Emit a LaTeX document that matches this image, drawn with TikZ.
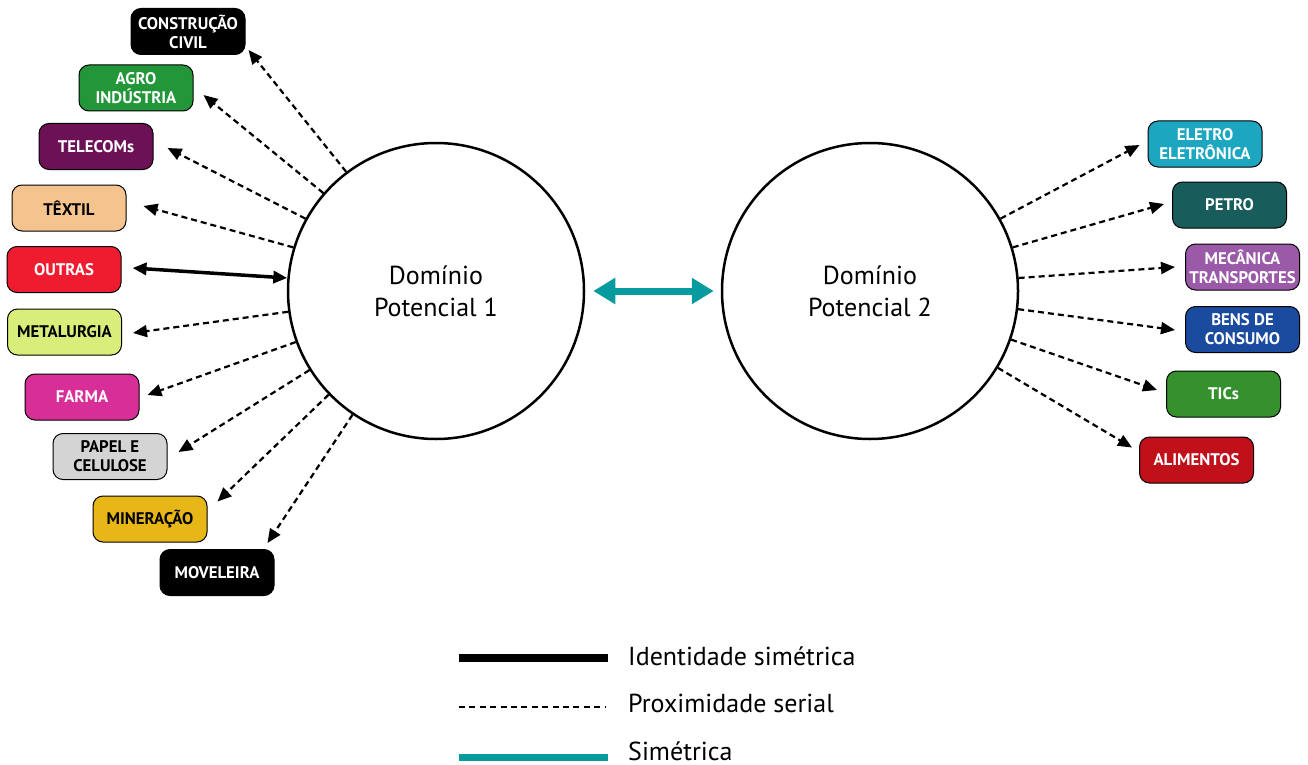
\documentclass[tikz,border=0pt]{standalone}
\usepackage{fontspec}
\setmainfont{PT Sans}
\usetikzlibrary{arrows.meta,calc}
\definecolor{cagro}{HTML}{23963A}
\definecolor{ctele}{HTML}{6D1157}
\definecolor{ctext}{HTML}{F5C48E}
\definecolor{coutr}{HTML}{EE1C2E}
\definecolor{cmeta}{HTML}{D9EE7A}
\definecolor{cfarm}{HTML}{D82E97}
\definecolor{cpape}{HTML}{D4D4D4}
\definecolor{cmine}{HTML}{E6B716}
\definecolor{celet}{HTML}{1CA6C0}
\definecolor{cpetr}{HTML}{185C5C}
\definecolor{cmeca}{HTML}{9A5AA8}
\definecolor{cbens}{HTML}{1B4B9F}
\definecolor{ctics}{HTML}{35902E}
\definecolor{calim}{HTML}{C0101A}
\definecolor{cteal}{HTML}{079BA0}
\begin{document}
\begin{tikzpicture}[x=1pt,y=-1pt,
  box/.style={draw=black, line width=1pt, rounded corners=10pt, minimum width=114pt, minimum height=46pt, align=center, inner sep=1pt, font=\fontsize{16.8}{19}\selectfont\bfseries, text=white},
  dk/.style={text=black},
  circ/.style={circle, draw, line width=2.5pt, minimum size=296pt, inner sep=0pt, align=center, font=\fontsize{26}{32}\selectfont},
  ser/.style={line width=2.2pt, dash pattern=on 6pt off 4pt, -{Triangle[length=14pt,width=12pt]}},
  ident/.style={line width=3.5pt, {Triangle[length=14pt,width=12pt]}-{Triangle[length=14pt,width=12pt]}},
  sym/.style={line width=7pt, color=cteal, {Triangle[length=22pt,width=25pt]}-{Triangle[length=22pt,width=25pt]}},
  legtxt/.style={anchor=base west, font=\fontsize{26}{30}\selectfont, inner sep=0pt}
]
\useasboundingbox (0,0) rectangle (1308,765);

% circles
\node[circ] (c1) at (436,291) {Domínio\\Potencial 1};
\node[circ] (c2) at (870,291) {Domínio\\Potencial 2};

% left boxes
\node[box, fill=black] (cc) at (188,31.5) {CONSTRUÇÃO\\CIVIL};
\node[box, fill=cagro] (ag) at (136,88) {AGRO\\INDÚSTRIA};
\node[box, fill=ctele] (te) at (96,146.5) {TELECOMs};
\node[box, fill=ctext, dk] (tx) at (69,208) {TÊXTIL};
\node[box, fill=coutr] (ou) at (64,269.5) {OUTRAS};
\node[box, fill=cmeta, dk] (me) at (64.5,332) {METALURGIA};
\node[box, fill=cfarm] (fa) at (82,397) {FARMA};
\node[box, fill=cpape, dk] (pa) at (110,456.5) {PAPEL E\\CELULOSE};
\node[box, fill=cmine, dk] (mi) at (150,519) {MINERAÇÃO};
\node[box, fill=black] (mo) at (217,572.5) {MOVELEIRA};

% right boxes
\node[box, fill=celet] (el) at (1205,144) {ELETRO\\ELETRÔNICA};
\node[box, fill=cpetr] (pe) at (1229.5,205) {PETRO};
\node[box, fill=cmeca] (mc) at (1242.5,267) {MECÂNICA\\TRANSPORTES};
\node[box, fill=cbens] (be) at (1242.5,329.5) {BENS DE\\CONSUMO};
\node[box, fill=ctics] (ti) at (1223.5,394) {TICs};
\node[box, fill=calim] (al) at (1196.5,460) {ALIMENTOS};

% left connectors
\draw[ser] (c1.127.4) -- ($(cc.south east)+(3,-5)$);
\draw[ser] (c1.139.3) -- ($(ag.east)+(10,7)$);
\draw[ser] (c1.151.7) -- ($(te.east)+(14,1.5)$);
\draw[ser] (c1.163.3) -- ($(tx.east)+(17,-2)$);
\draw[ident] ($(ou.east)+(11,-1.5)$) -- (c1.175.5);
\draw[ser] (c1.188.1) -- ($(me.east)+(11,1)$);
\draw[ser] (c1.200) -- ($(fa.east)+(8,-2)$);
\draw[ser] (c1.212.5) -- ($(pa.east)+(11,-4.5)$);
\draw[ser] (c1.224.5) -- ($(mi.north east)+(10,6)$);
\draw[ser] (c1.236.3) -- ($(mo.north east)+(-7,-6)$);

% right connectors
\draw[ser] (c2.29.1) -- ($(el.west)+(-8,1)$);
\draw[ser] (c2.17.2) -- ($(pe.west)+(-8,-1)$);
\draw[ser] (c2.5) -- ($(mc.west)+(-10,0)$);
\draw[ser] (c2.-7.6) -- ($(be.west)+(-10,0.5)$);
\draw[ser] (c2.-19) -- ($(ti.west)+(-9,-4)$);
\draw[ser] (c2.-31.6) -- ($(al.north west)+(-7,11)$);

% symmetric
\draw[sym, shorten <=8pt, shorten >=7pt] (c1.east) -- (c2.west);

% legend
\coordinate (l1a) at (459,658); \coordinate (l1b) at (608,658);
\coordinate (l2a) at (459,707); \coordinate (l2b) at (606,707);
\coordinate (l3a) at (459,757); \coordinate (l3b) at (608,757);
\draw[line width=8pt] (l1a) -- (l1b);
\draw[line width=2.2pt, dash pattern=on 6pt off 4.4pt] (l2a) -- (l2b);
\draw[line width=7pt, cteal] (l3a) -- (l3b);
\node[legtxt] (t1) at (628,665) {Identidade simétrica};
\node[legtxt] (t2) at (628,712) {Proximidade serial};
\node[legtxt] (t3) at (628,760) {Simétrica};
\end{tikzpicture}
\end{document}
